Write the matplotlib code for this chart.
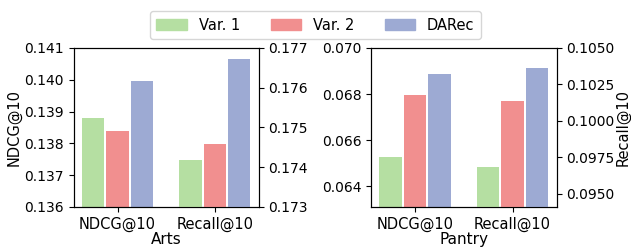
import numpy as np
import matplotlib
matplotlib.use("Agg")
import matplotlib.pyplot as plt
from matplotlib.patches import Patch

metrics = ["NDCG@10", "Recall@10"]
methods = ["Var. 1", "Var. 2", "DARec"]
colors = ["#b5dfa2", "#f18f8f", "#9daad3"]

# Arts: NDCG on left axis, Recall on right axis
arts_ndcg = [0.13879, 0.13839, 0.13997]
arts_recall = [0.17418, 0.17458, 0.17671]
# Pantry
pantry_ndcg = [0.06525, 0.06796, 0.06888]
pantry_recall = [0.09683, 0.10137, 0.10363]

plt.rcParams['font.size'] = 10.5
plt.rcParams['ytick.labelsize'] = 10
plt.rcParams['xtick.labelsize'] = 10.5

fig = plt.figure(figsize=(6.31, 2.47), dpi=100)
ax1 = fig.add_axes([0.117, 0.162, 0.293, 0.644])
ax2 = fig.add_axes([0.588, 0.162, 0.294, 0.644])

width = 0.23
offsets = [-0.25, 0.0, 0.25]

def draw(ax, ndcg, recall, ylim_l, ylim_r, name):
    axr = ax.twinx()
    for i in range(3):
        ax.bar(0 + offsets[i], ndcg[i], width, color=colors[i])
        axr.bar(1 + offsets[i], recall[i], width, color=colors[i])
    ax.set_xlim(-0.45, 1.45)
    ax.set_ylim(*ylim_l)
    axr.set_ylim(*ylim_r)
    ax.set_xticks([0, 1])
    ax.set_xticklabels(metrics)
    ax.set_xlabel(name, labelpad=0, fontsize=11)
    return axr

r1 = draw(ax1, arts_ndcg, arts_recall, (0.136, 0.141), (0.173, 0.177), "Arts")
ax1.set_yticks([0.136, 0.137, 0.138, 0.139, 0.140, 0.141])
ax1.set_yticklabels(["%.3f" % v for v in ax1.get_yticks()])
r1.set_yticks([0.173, 0.174, 0.175, 0.176, 0.177])
r1.set_yticklabels(["%.3f" % v for v in r1.get_yticks()])
ax1.set_ylabel("NDCG@10", labelpad=2)

r2 = draw(ax2, pantry_ndcg, pantry_recall, (0.0631, 0.0700), (0.0941, 0.1050), "Pantry")
ax2.set_yticks([0.064, 0.066, 0.068, 0.070])
ax2.set_yticklabels(["%.3f" % v for v in ax2.get_yticks()])
r2.set_yticks([0.0950, 0.0975, 0.1000, 0.1025, 0.1050])
r2.set_yticklabels(["%.4f" % v for v in r2.get_yticks()])
r2.set_ylabel("Recall@10", labelpad=1)

handles = [Patch(color=c, label=m) for c, m in zip(colors, methods)]
fig.legend(handles=handles, loc="upper center", ncol=3, bbox_to_anchor=(0.5, 0.985),
           columnspacing=2.1, handlelength=2.1, borderpad=0.45, frameon=True)

fig.savefig("out.png", dpi=100)
